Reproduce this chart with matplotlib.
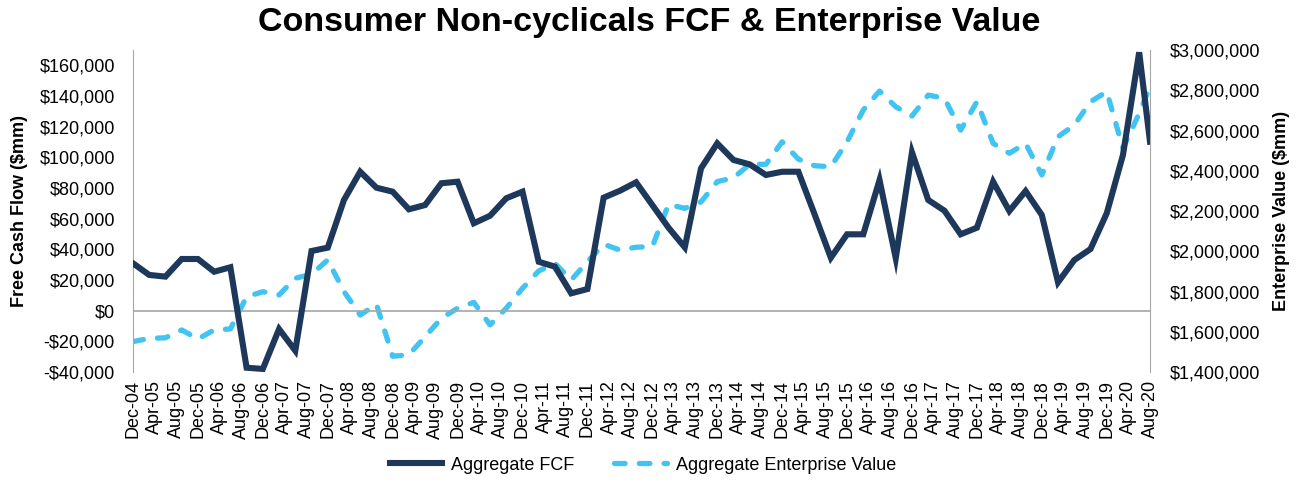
import matplotlib
matplotlib.use("Agg")
import matplotlib.pyplot as plt
import pandas as pd
from matplotlib.ticker import FuncFormatter
from matplotlib.lines import Line2D

plt.rcParams['font.family'] = ['Liberation Sans', 'DejaVu Sans']

# ---- data ($mm) ----
period_ends = list(pd.date_range("2004-12-31", "2020-06-30", freq="QE")) + [pd.Timestamp("2020-08-31")]

fcf = [30.9, 23.3, 22.2, 33.7, 33.7, 25.4, 28.3, -37.2, -38.0, -12.0, -26.1, 38.9, 41.1,
       72.2, 90.6, 80.2, 77.6, 66.1, 68.9, 83.1, 84.1, 57.0, 61.9, 73.3, 77.6, 31.9,
       28.7, 11.3, 14.1, 73.7, 78.2, 83.7, 68.9, 54.1, 41.3, 92.8, 109.1, 98.3, 95.4,
       88.5, 90.6, 90.6, 62.8, 34.5, 49.8, 49.8, 85.2, 34.2, 103.3, 72.2, 65.2, 49.8,
       54.1, 84.1, 65.0, 78.0, 62.4, 18.5, 33.0, 40.2, 63.5, 101.5, 168.5, 110.2]
fcf = [v * 1000 for v in fcf]

ev = [1551, 1567, 1570, 1609, 1564, 1609, 1614, 1774, 1799, 1783, 1866, 1885, 1957,
      1800, 1683, 1737, 1478, 1486, 1575, 1667, 1717, 1746, 1634, 1717, 1816, 1902,
      1940, 1857, 1948, 2035, 2006, 2020, 2023, 2233, 2213, 2245, 2346, 2365, 2432,
      2432, 2544, 2458, 2425, 2420, 2544, 2702, 2796, 2718, 2672, 2776, 2760, 2602,
      2743, 2536, 2487, 2536, 2379, 2569, 2627, 2743, 2793, 2512, 2685, 2818]
ev = [v * 1000 for v in ev]

tick_labels = ["Dec-04", "Apr-05", "Aug-05", "Dec-05", "Apr-06", "Aug-06", "Dec-06", "Apr-07",
               "Aug-07", "Dec-07", "Apr-08", "Aug-08", "Dec-08", "Apr-09", "Aug-09", "Dec-09",
               "Apr-10", "Aug-10", "Dec-10", "Apr-11", "Aug-11", "Dec-11", "Apr-12", "Aug-12",
               "Dec-12", "Apr-13", "Aug-13", "Dec-13", "Apr-14", "Aug-14", "Dec-14", "Apr-15",
               "Aug-15", "Dec-15", "Apr-16", "Aug-16", "Dec-16", "Apr-17", "Aug-17", "Dec-17",
               "Apr-18", "Aug-18", "Dec-18", "Apr-19", "Aug-19", "Dec-19", "Apr-20", "Aug-20"]

title = "Consumer Non-cyclicals FCF & Enterprise Value"


def month_index(ts):
    return (ts.year - 2004) * 12 + ts.month - 12


x = [month_index(t) for t in period_ends]
tick_pos = [month_index(pd.to_datetime(l, format="%b-%y")) for l in tick_labels]

NAVY = "#1E385C"
SKY = "#41C4F2"
GRID = "#A6A6A6"
DASH = (2.0, 2.7)

fig = plt.figure(figsize=(12.99, 4.87), dpi=100)
ax = fig.add_axes([133 / 1299, 1 - 372 / 487, (1150 - 133) / 1299, (372 - 50) / 487])
ax2 = ax.twinx()

ax.plot(x, fcf, color=NAVY, lw=4.4, solid_joinstyle="miter", zorder=3)
ax2.plot(x, ev, color=SKY, lw=3.8, dashes=DASH, dash_capstyle="round", zorder=2)
ax.set_zorder(ax2.get_zorder() + 1)
ax.patch.set_visible(False)

ax.set_xlim(tick_pos[0], tick_pos[-1])
ax.set_ylim(-40000, 170000)
ax2.set_ylim(1400000, 3000000)
ax.axhline(0, color=GRID, lw=1.2, zorder=1)

ax.set_xticks(tick_pos)
ax.set_xticklabels(tick_labels, rotation=90, fontsize=13)


def money(v, _):
    return ("-$" if v < 0 else "$") + f"{abs(v):,.0f}"


ax.set_yticks(range(-40000, 160001, 20000))
ax2.set_yticks(range(1400000, 3000001, 200000))
ax.yaxis.set_major_formatter(FuncFormatter(money))
ax2.yaxis.set_major_formatter(FuncFormatter(money))

for a in (ax, ax2):
    a.tick_params(axis="both", length=0, labelsize=13, colors="black")
    for s in ("top", "bottom"):
        a.spines[s].set_visible(False)
    a.spines["left"].set_color(GRID)
    a.spines["right"].set_color(GRID)
ax.tick_params(axis="x", pad=6)
ax.tick_params(axis="y", pad=13)
ax2.tick_params(axis="y", pad=14)
ax2.spines["left"].set_visible(False)
ax.spines["right"].set_visible(False)

fig.text(0.5, 1 - 23 / 487, title, ha="center", va="center", fontsize=24.5, fontweight="bold")
fig.text(20 / 1299, 1 - 211 / 487, "Free Cash Flow ($mm)", rotation=90, ha="center",
         va="center", fontsize=13, fontweight="bold")
fig.text(1281 / 1299, 1 - 211 / 487, "Enterprise Value ($mm)", rotation=90, ha="center",
         va="center", fontsize=13, fontweight="bold")

handles = [Line2D([], [], color=NAVY, lw=4.4),
           Line2D([], [], color=SKY, lw=3.8, dashes=DASH, dash_capstyle="round")]
fig.legend(handles, ["Aggregate FCF", "Aggregate Enterprise Value"], loc="center",
           bbox_to_anchor=(643 / 1299, 1 - 465 / 487), ncol=2, frameon=False, fontsize=13,
           handlelength=2.9, columnspacing=2.2, handletextpad=0.5)

fig.savefig("out.png", dpi=100)
